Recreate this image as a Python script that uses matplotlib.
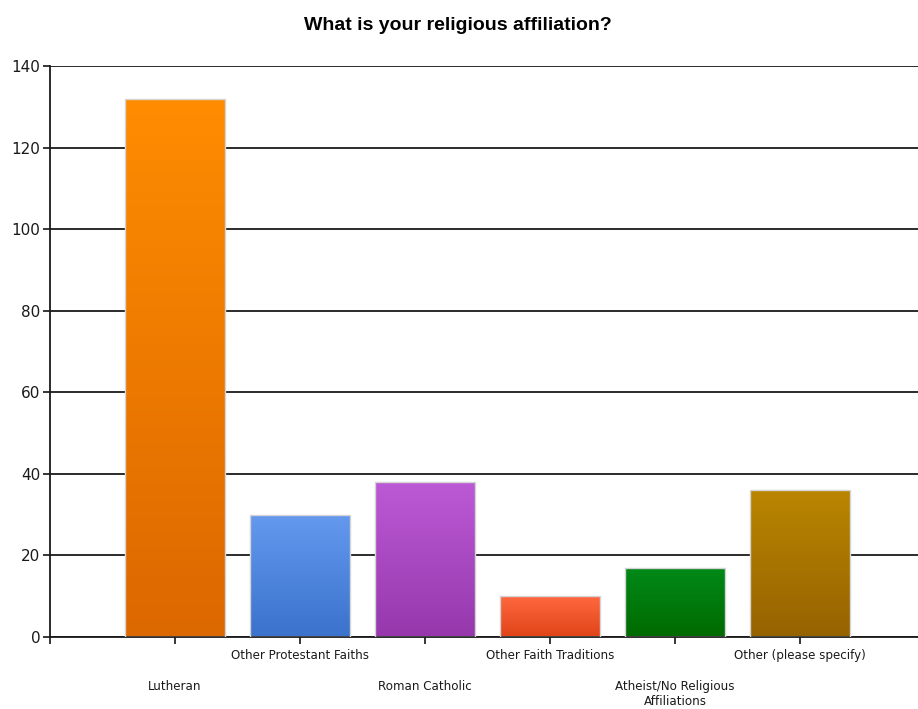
import matplotlib.pyplot as plt
import matplotlib.transforms as mtransforms
import numpy as np
from matplotlib.colors import LinearSegmentedColormap

# Daten
categories = ['Lutheran', 'Other Protestant Faiths', 'Roman Catholic',
              'Other Faith Traditions', 'Atheist/No Religious\nAffiliations',
              'Other (please specify)']
counts = [132, 30, 38, 10, 17, 36]
top_colors = ['#FF8C00', '#6499EE', '#BC5AD6', '#FF6840', '#008A18', '#BA8600']
bottom_colors = ['#DC6800', '#3A72CC', '#9638AC', '#E04418', '#006A00', '#966200']

fig = plt.figure(figsize=(9.18, 7.09), dpi=100)
ax = fig.add_axes([50 / 918, 72 / 709, 868 / 918, 571 / 709])

positions = np.arange(1, len(counts) + 1)
bars = ax.bar(positions, counts, width=0.8, facecolor='none',
              edgecolor='#d4d4d4', linewidth=1.0, zorder=3)

# Farbverlauf in jedem Balken
grad = np.linspace(0, 1, 256).reshape(-1, 1)
for bar, c_top, c_bot in zip(bars, top_colors, bottom_colors):
    cmap = LinearSegmentedColormap.from_list('g', [c_bot, c_top])
    x0 = bar.get_x()
    im = ax.imshow(grad, cmap=cmap, aspect='auto', origin='lower',
                   extent=[x0, x0 + bar.get_width(), 0, bar.get_height()],
                   zorder=2)
    im.set_clip_path(bar)

ax.set_xlim(0, 868 / 125)
ax.set_ylim(0, 140)
ax.set_yticks(np.arange(0, 141, 20))
ax.grid(axis='y', color='#1a1a1a', linewidth=1.3)
ax.set_axisbelow(True)

for s in ['top', 'right']:
    ax.spines[s].set_visible(False)
for s in ['left', 'bottom']:
    ax.spines[s].set_color('#1a1a1a')
    ax.spines[s].set_linewidth(1.3)

ax.set_xticks(np.concatenate([[0], positions]))
ax.set_xticklabels([''] + categories, fontsize=8.6, color='#1a1a1a',
                   family='DejaVu Sans', linespacing=1.25)
ax.tick_params(axis='x', length=5, width=1.1, pad=3.5)
ax.tick_params(axis='y', length=5, width=1.1, pad=2, labelsize=11,
               labelcolor='#1a1a1a')

# jede zweite Beschriftung eine Zeile tiefer
shift = mtransforms.ScaledTranslation(0, -31 / 100, fig.dpi_scale_trans)
for i, lbl in enumerate(ax.get_xticklabels()):
    if i % 2 == 1:
        lbl.set_transform(lbl.get_transform() + shift)

fig.suptitle('What is your religious affiliation?', x=458 / 918, y=1 - 17 / 709,
             fontsize=14, fontweight='bold', family='Liberation Sans')

fig.savefig('out.png', dpi=100)
